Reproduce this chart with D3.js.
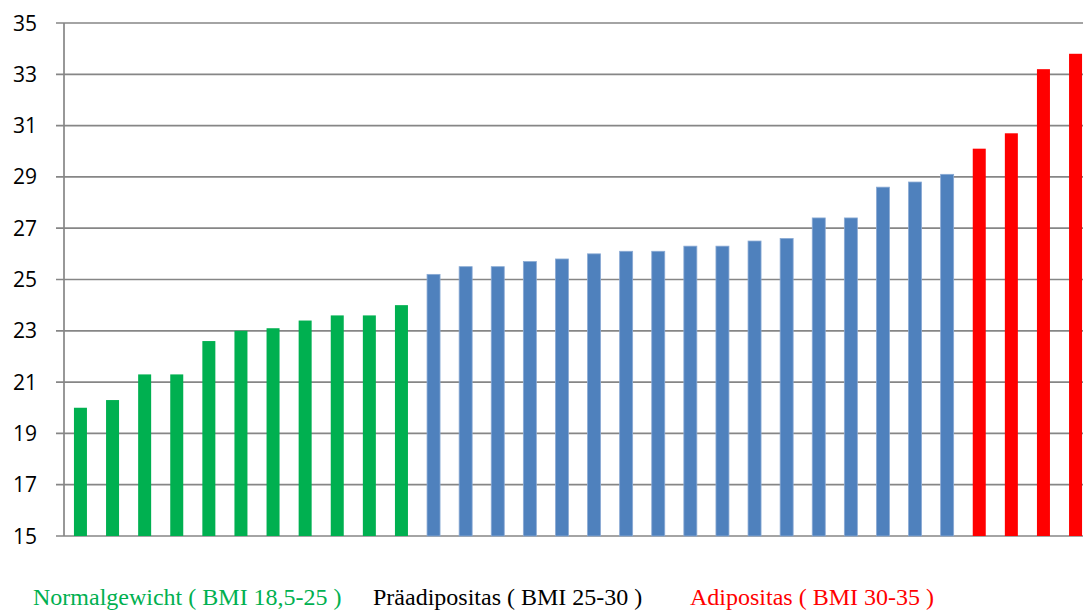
<!DOCTYPE html>
<html><head><meta charset="utf-8">
<script src="https://cdn.jsdelivr.net/npm/d3@7"></script>
<style>body{margin:0;background:#fff;}svg{display:block;}</style>
</head><body>
<svg id="c" width="1083" height="610"></svg>
<script>
const normalValues = [20.0, 20.3, 21.3, 21.3, 22.6, 23.0, 23.1, 23.4, 23.6, 23.6, 24.0];
const praeValues = [25.2, 25.5, 25.5, 25.7, 25.8, 26.0, 26.1, 26.1, 26.3, 26.3, 26.5, 26.6, 27.4, 27.4, 28.6, 28.8, 29.1];
const adiposValues = [30.1, 30.7, 33.2, 33.8];
const yTicks = [15, 17, 19, 21, 23, 25, 27, 29, 31, 33, 35];
const legendLabels = ["Normalgewicht ( BMI 18,5-25 )", "Präadipositas ( BMI 25-30 )", "Adipositas ( BMI 30-35 )"];
const groupColors = ["#00B050", "#000000", "#FF0000"];
const barColors = ["#00B050", "#4F81BD", "#FF0000"];

const data = [];
[normalValues, praeValues, adiposValues].forEach((arr, g) => arr.forEach(v => data.push({i: data.length, v, g})));

const svg = d3.select("#c");
const left = 64.4, step = 32.1;
const x = d3.scaleBand().domain(data.map(d => d.i)).range([left, left + step * data.length]).paddingInner(0.595).paddingOuter(0.2975);
const y = d3.scaleLinear().domain([15, 35]).range([536, 23]);

// gridlines
svg.append("g").selectAll("line").data(yTicks).join("line")
  .attr("x1", 56).attr("x2", 1100)
  .attr("y1", d => y(d)).attr("y2", d => y(d))
  .attr("stroke", "#868686").attr("stroke-width", 1.7);

// y axis line
svg.append("line").attr("x1", 64).attr("x2", 64).attr("y1", y(35)).attr("y2", y(15))
  .attr("stroke", "#868686").attr("stroke-width", 1.7);

// bars
svg.append("g").selectAll("rect").data(data).join("rect")
  .attr("x", d => x(d.i)).attr("width", x.bandwidth())
  .attr("y", d => y(d.v)).attr("height", d => y(15) - y(d.v))
  .attr("fill", d => barColors[d.g])
  .attr("stroke", d => d.g === 1 ? "#8aaad4" : "none").attr("stroke-width", d => d.g === 1 ? 0.8 : 0);

// tick labels
svg.append("g").selectAll("text").data(yTicks).join("text")
  .attr("x", 37).attr("y", d => y(d)).attr("dy", "0.36em")
  .attr("text-anchor", "end")
  .attr("font-family", "'Open Sans', 'Liberation Sans', sans-serif").attr("font-size", 21)
  .attr("fill", "#000").text(d => d);

// legend
const legendX = [33, 373, 690];
svg.append("g").selectAll("text").data(legendLabels).join("text")
  .attr("x", (d, i) => legendX[i]).attr("y", 605)
  .attr("font-family", "'Liberation Serif', 'Times New Roman', serif").attr("font-size", 24)
  .attr("fill", (d, i) => groupColors[i]).text(d => d);
</script>
</body></html>
